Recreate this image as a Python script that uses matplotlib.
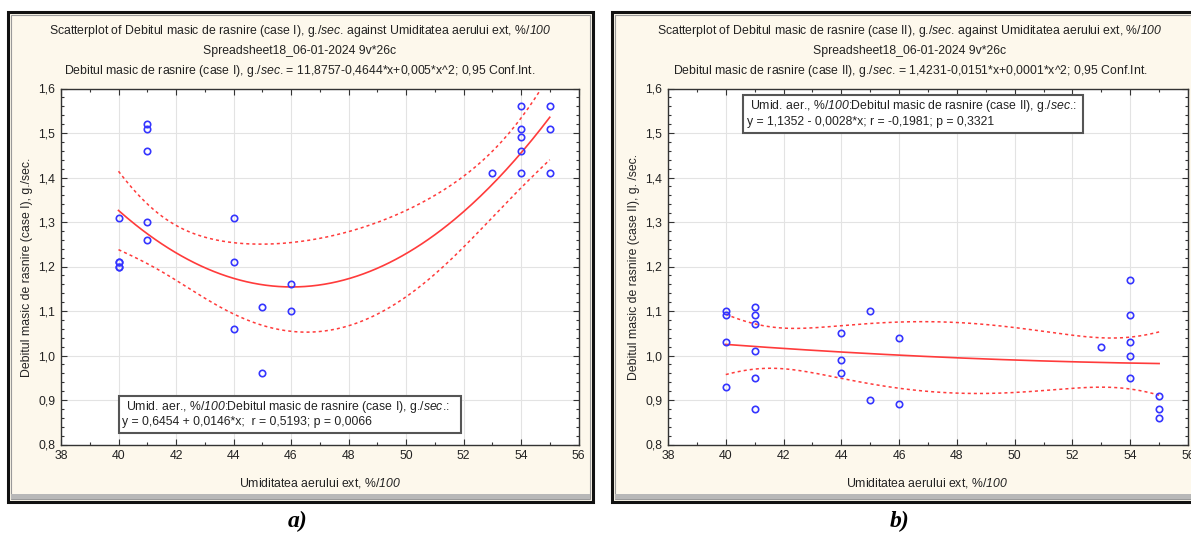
import numpy as np
import matplotlib
matplotlib.use("Agg")
import matplotlib.pyplot as plt
from matplotlib.patches import Rectangle
from matplotlib.ticker import MultipleLocator, FuncFormatter

plt.rcParams['font.family'] = ['Liberation Sans', 'DejaVu Sans']
plt.rcParams['mathtext.fontset'] = 'custom'
plt.rcParams['mathtext.rm'] = 'Liberation Sans'
plt.rcParams['mathtext.sf'] = 'Liberation Sans:italic'

# date (26 cazuri; doua puncte la x=40 se suprapun)
x_case1 = [40, 40, 40, 40, 40, 41, 41, 41, 41, 41, 44, 44, 44, 45, 45, 46, 46,
           53, 54, 54, 54, 54, 54, 55, 55, 55]
y_case1 = [1.31, 1.21, 1.21, 1.20, 1.20, 1.52, 1.51, 1.46, 1.30, 1.26,
           1.31, 1.21, 1.06, 1.11, 0.96, 1.16, 1.10, 1.41,
           1.56, 1.51, 1.49, 1.46, 1.41, 1.56, 1.51, 1.41]

x_case2 = [40, 40, 40, 40, 41, 41, 41, 41, 41, 41, 44, 44, 44, 45, 45, 46, 46,
           53, 54, 54, 54, 54, 54, 55, 55, 55]
y_case2 = [1.10, 1.09, 1.03, 0.93, 1.11, 1.09, 1.07, 1.01, 0.95, 0.88,
           1.05, 0.99, 0.96, 1.10, 0.90, 1.04, 0.89, 1.02,
           1.17, 1.09, 1.03, 1.00, 0.95, 0.91, 0.88, 0.86]

x_ticks = [38, 40, 42, 44, 46, 48, 50, 52, 54, 56]
y_ticks = [0.8, 0.9, 1.0, 1.1, 1.2, 1.3, 1.4, 1.5, 1.6]

titles1 = [r"Scatterplot of Debitul masic de rasnire (case I), g./$\mathsf{sec}$. against Umiditatea aerului ext, %/$\mathsf{100}$",
           "Spreadsheet18_06-01-2024 9v*26c",
           r"Debitul masic de rasnire (case I), g./$\mathsf{sec}$. = 11,8757-0,4644*x+0,005*x^2; 0,95 Conf.Int."]
titles2 = [r"Scatterplot of Debitul masic de rasnire (case II), g./$\mathsf{sec}$. against Umiditatea aerului ext, %/$\mathsf{100}$",
           "Spreadsheet18_06-01-2024 9v*26c",
           r"Debitul masic de rasnire (case II), g./$\mathsf{sec}$. = 1,4231-0,0151*x+0,0001*x^2; 0,95 Conf.Int."]
box1 = [r"Umid. aer., %/$\mathsf{100}$:Debitul masic de rasnire (case I), g./$\mathsf{sec}$.:",
        "y = 0,6454 + 0,0146*x;  r = 0,5193; p = 0,0066"]
box2 = [r"Umid. aer., %/$\mathsf{100}$:Debitul masic de rasnire (case II), g./$\mathsf{sec}$.:",
        "y = 1,1352 - 0,0028*x; r = -0,1981; p = 0,3321"]
ylabels = ["Debitul masic de rasnire (case I), g./sec.",
           "Debitul masic de rasnire (case II), g. /sec."]
xlabel = r"Umiditatea aerului ext, %/$\mathsf{100}$"

W, H = 1191, 535
FS = 8.8
fig = plt.figure(figsize=(W / 100, H / 100), dpi=100)
fig.patch.set_facecolor('white')

bg = fig.add_axes([0, 0, 1, 1], zorder=-1)
bg.set_xlim(0, W)
bg.set_ylim(H, 0)
bg.axis('off')

CREAM = '#fdf8ec'
TXT = '#222222'


def box_px(left, top, right, bottom):
    return [left / W, 1 - bottom / H, (right - left) / W, (bottom - top) / H]


def quad_fit(x, y, t_val):
    x = np.asarray(x, float)
    y = np.asarray(y, float)
    X = np.column_stack([np.ones_like(x), x, x ** 2])
    beta = np.linalg.lstsq(X, y, rcond=None)[0]
    resid = y - X @ beta
    s2 = resid @ resid / (len(x) - 3)
    cov = np.linalg.inv(X.T @ X)
    xs = np.linspace(x.min(), x.max(), 200)
    Xs = np.column_stack([np.ones_like(xs), xs, xs ** 2])
    ys = Xs @ beta
    se = np.sqrt(s2 * np.einsum('ij,jk,ik->i', Xs, cov, Xs))
    return xs, ys, ys - t_val * se, ys + t_val * se


def panel(frame_l, frame_r, ax_l, ax_r, x, y, t_val, titles, box_lines,
          box_xy, ylab, tag, title_cx, xlab_cx, tag_cx):
    # cadrul ferestrei
    bg.add_patch(Rectangle((frame_l, 12), frame_r - frame_l, 490,
                           facecolor=CREAM, edgecolor='#111111', lw=2.2))
    bg.add_patch(Rectangle((frame_l + 3, 15), frame_r - frame_l - 6, 484,
                           facecolor='none', edgecolor='#9a9a9a', lw=0.8))
    bg.add_patch(Rectangle((frame_l + 3, 494), frame_r - frame_l - 6, 5,
                           facecolor='#b8b8b8', edgecolor='none'))
    for k, t in enumerate(titles):
        bg.text(title_cx, 31 + 20 * k, t, ha='center', va='center',
                fontsize=FS, color=TXT)
    bg.text(xlab_cx, 483, xlabel, ha='center', va='center', fontsize=FS,
            color=TXT)
    bg.text(ax_l - 34, 267, ylab, rotation=90, ha='center', va='center',
            fontsize=FS, color=TXT)
    bg.text(tag_cx, 521, tag, ha='center', va='center', fontsize=17,
            fontweight='bold', fontstyle='italic', family='Liberation Serif',
            color='black')

    ax = fig.add_axes(box_px(ax_l, 88.5, ax_r, 444.5))
    ax.set_facecolor('white')
    ax.set_xlim(38, 56)
    ax.set_ylim(0.8, 1.6)
    ax.set_xticks(x_ticks)
    ax.set_yticks(y_ticks)
    ax.xaxis.set_minor_locator(MultipleLocator(1))
    ax.yaxis.set_minor_locator(MultipleLocator(0.02))
    ax.yaxis.set_major_formatter(FuncFormatter(lambda v, p: f'{v:.1f}'.replace('.', ',')))
    ax.tick_params(which='both', direction='in', top=True, right=True,
                   labelsize=FS, labelcolor=TXT, color='#333333', width=0.8)
    ax.tick_params(which='major', length=4, pad=4)
    ax.tick_params(which='minor', length=2)
    ax.grid(True, which='major', color='#e3e3e3', lw=0.8)
    ax.set_axisbelow(True)
    for s in ax.spines.values():
        s.set_color('#333333')
        s.set_linewidth(1.0)

    xs, ys, lo, hi = quad_fit(x, y, t_val)
    ax.plot(xs, ys, color='#ff3b3b', lw=1.2)
    ax.plot(xs, lo, color='#ff3b3b', lw=1.1, ls=(0, (2, 2)))
    ax.plot(xs, hi, color='#ff3b3b', lw=1.1, ls=(0, (2, 2)))
    ax.plot(x, y, 'o', mfc='none', mec='#3535ff', ms=4.6, mew=1.2)

    bx0, by0, bx1, by1 = box_xy
    ax.add_patch(Rectangle((bx0, by0), bx1 - bx0, by1 - by0, facecolor='white',
                           edgecolor='#555555', lw=1.5, zorder=5))
    h = by1 - by0
    ax.text(bx0 + 0.25, by1 - h * 0.3, box_lines[0], fontsize=FS, color=TXT,
            va='center', ha='left', zorder=6)
    ax.text(bx0 + 0.12, by0 + h * 0.3, box_lines[1], fontsize=FS, color=TXT,
            va='center', ha='left', zorder=6)
    return ax


panel(8, 593, 61, 578.5, x_case1, y_case1, 2.0687, titles1, box1,
      (40.0, 0.826, 51.9, 0.910), ylabels[0], 'a)', 300, 320, 298)
panel(612, 1205, 668, 1188, x_case2, y_case2, 2.0687, titles2, box2,
      (40.6, 1.500, 52.35, 1.586), ylabels[1], 'b)', 910, 927, 900)

fig.savefig('out.png', dpi=100, facecolor='white')
